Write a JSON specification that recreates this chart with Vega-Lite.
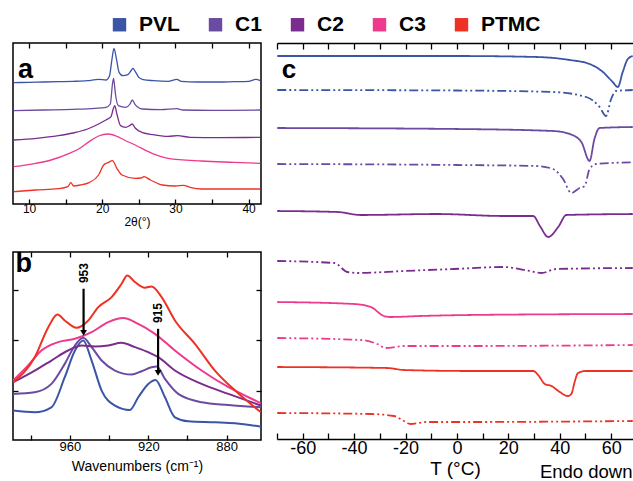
{
  "$schema": "https://vega.github.io/schema/vega-lite/v6.json",
  "autosize": {"type": "pad"},
  "padding": {"left": 11, "top": 14, "right": 0, "bottom": 0},
  "background": "white",
  "datasets": {
    "xrd": [
      {"s":"PVL","x":7.9,"y":364},{"s":"PVL","x":10,"y":365},{"s":"PVL","x":12,"y":366},{"s":"PVL","x":14,"y":367},{"s":"PVL","x":16,"y":368},{"s":"PVL","x":18,"y":370},{"s":"PVL","x":19.5,"y":374},{"s":"PVL","x":20.5,"y":372},{"s":"PVL","x":21.0,"y":385},{"s":"PVL","x":21.3,"y":430},{"s":"PVL","x":21.6,"y":467},{"s":"PVL","x":21.9,"y":440},{"s":"PVL","x":22.3,"y":395},{"s":"PVL","x":22.8,"y":385},{"s":"PVL","x":23.5,"y":388},{"s":"PVL","x":24.0,"y":402},{"s":"PVL","x":24.2,"y":407},{"s":"PVL","x":24.5,"y":398},{"s":"PVL","x":25.0,"y":380},{"s":"PVL","x":25.6,"y":373},{"s":"PVL","x":27,"y":370},{"s":"PVL","x":29,"y":368},{"s":"PVL","x":30.2,"y":374},{"s":"PVL","x":30.8,"y":368},{"s":"PVL","x":33,"y":366},{"s":"PVL","x":36,"y":366},{"s":"PVL","x":38,"y":367},{"s":"PVL","x":40,"y":368},{"s":"PVL","x":41,"y":374},{"s":"PVL","x":41.6,"y":370},
      {"s":"C1","x":7.9,"y":280},{"s":"C1","x":12,"y":282},{"s":"C1","x":16,"y":284},{"s":"C1","x":19,"y":287},{"s":"C1","x":20.5,"y":290},{"s":"C1","x":21.1,"y":300},{"s":"C1","x":21.4,"y":360},{"s":"C1","x":21.55,"y":377},{"s":"C1","x":21.8,"y":330},{"s":"C1","x":22.2,"y":295},{"s":"C1","x":23.2,"y":290},{"s":"C1","x":23.8,"y":300},{"s":"C1","x":24.1,"y":312},{"s":"C1","x":24.5,"y":298},{"s":"C1","x":25.5,"y":285},{"s":"C1","x":28,"y":283},{"s":"C1","x":30.2,"y":286},{"s":"C1","x":31,"y":282},{"s":"C1","x":35,"y":281},{"s":"C1","x":41.6,"y":282},
      {"s":"C2","x":7.9,"y":192},{"s":"C2","x":11,"y":197},{"s":"C2","x":14,"y":205},{"s":"C2","x":16,"y":213},{"s":"C2","x":18,"y":225},{"s":"C2","x":19.5,"y":240},{"s":"C2","x":20.5,"y":252},{"s":"C2","x":21.2,"y":262},{"s":"C2","x":21.5,"y":285},{"s":"C2","x":21.7,"y":295},{"s":"C2","x":22.0,"y":270},{"s":"C2","x":22.5,"y":235},{"s":"C2","x":23.2,"y":230},{"s":"C2","x":23.8,"y":236},{"s":"C2","x":24.1,"y":240},{"s":"C2","x":24.5,"y":228},{"s":"C2","x":25.5,"y":214},{"s":"C2","x":27,"y":208},{"s":"C2","x":29,"y":203},{"s":"C2","x":30.3,"y":205},{"s":"C2","x":32,"y":200},{"s":"C2","x":36,"y":199},{"s":"C2","x":41.6,"y":200},
      {"s":"C3","x":7.9,"y":112},{"s":"C3","x":10.9,"y":122},{"s":"C3","x":13,"y":132},{"s":"C3","x":15.5,"y":152},{"s":"C3","x":17,"y":168},{"s":"C3","x":18.2,"y":187},{"s":"C3","x":19.5,"y":204},{"s":"C3","x":20.8,"y":210},{"s":"C3","x":22,"y":203},{"s":"C3","x":23,"y":192},{"s":"C3","x":24.5,"y":177},{"s":"C3","x":26.8,"y":152},{"s":"C3","x":29,"y":137},{"s":"C3","x":33.6,"y":129},{"s":"C3","x":38,"y":125},{"s":"C3","x":41.6,"y":122},
      {"s":"PTMC","x":7.9,"y":37},{"s":"PTMC","x":10.9,"y":42},{"s":"PTMC","x":14,"y":46},{"s":"PTMC","x":15.3,"y":52},{"s":"PTMC","x":15.7,"y":64},{"s":"PTMC","x":16.1,"y":54},{"s":"PTMC","x":17,"y":57},{"s":"PTMC","x":18.2,"y":64},{"s":"PTMC","x":19.5,"y":87},{"s":"PTMC","x":20.2,"y":117},{"s":"PTMC","x":20.8,"y":124},{"s":"PTMC","x":21.4,"y":130},{"s":"PTMC","x":22.0,"y":107},{"s":"PTMC","x":22.7,"y":87},{"s":"PTMC","x":24.5,"y":77},{"s":"PTMC","x":25.3,"y":78},{"s":"PTMC","x":25.7,"y":82},{"s":"PTMC","x":26.6,"y":72},{"s":"PTMC","x":28.2,"y":57},{"s":"PTMC","x":30,"y":54},{"s":"PTMC","x":31.1,"y":56},{"s":"PTMC","x":32,"y":50},{"s":"PTMC","x":33.6,"y":45},{"s":"PTMC","x":41.6,"y":45}
    ],
    "ftir": [
      {"s":"PVL","x":988.9,"y":88},{"s":"PVL","x":977.9,"y":83},{"s":"PVL","x":969.4,"y":98},{"s":"PVL","x":962.6,"y":188},{"s":"PVL","x":957.4,"y":268},{"s":"PVL","x":953.2,"y":298},{"s":"PVL","x":948.9,"y":238},{"s":"PVL","x":943.8,"y":148},{"s":"PVL","x":937,"y":103},{"s":"PVL","x":929.4,"y":90},{"s":"PVL","x":925.1,"y":128},{"s":"PVL","x":920,"y":168},{"s":"PVL","x":916.3,"y":180},{"s":"PVL","x":911.5,"y":128},{"s":"PVL","x":906.4,"y":68},{"s":"PVL","x":899.6,"y":56},{"s":"PVL","x":886,"y":53},{"s":"PVL","x":875.7,"y":50},{"s":"PVL","x":862.5,"y":40},
      {"s":"C1","x":988.9,"y":138},{"s":"C1","x":977.9,"y":143},{"s":"C1","x":969.4,"y":168},{"s":"C1","x":962.6,"y":228},{"s":"C1","x":957.4,"y":283},{"s":"C1","x":953.2,"y":306},{"s":"C1","x":948.9,"y":278},{"s":"C1","x":943.8,"y":238},{"s":"C1","x":937,"y":208},{"s":"C1","x":928.5,"y":196},{"s":"C1","x":923.4,"y":206},{"s":"C1","x":918.3,"y":218},{"s":"C1","x":915.7,"y":220},{"s":"C1","x":911.5,"y":183},{"s":"C1","x":904.7,"y":138},{"s":"C1","x":892.8,"y":113},{"s":"C1","x":879.1,"y":105},{"s":"C1","x":862.5,"y":98},
      {"s":"C2","x":988.9,"y":173},{"s":"C2","x":977.9,"y":208},{"s":"C2","x":969.4,"y":238},{"s":"C2","x":960.9,"y":268},{"s":"C2","x":954,"y":283},{"s":"C2","x":947.2,"y":280},{"s":"C2","x":940.4,"y":283},{"s":"C2","x":933.6,"y":291},{"s":"C2","x":926.8,"y":278},{"s":"C2","x":920,"y":263},{"s":"C2","x":914.9,"y":248},{"s":"C2","x":906.4,"y":208},{"s":"C2","x":892.8,"y":168},{"s":"C2","x":879.1,"y":138},{"s":"C2","x":862.5,"y":103},
      {"s":"C3","x":988.9,"y":178},{"s":"C3","x":981.3,"y":223},{"s":"C3","x":974.5,"y":268},{"s":"C3","x":966,"y":293},{"s":"C3","x":957.4,"y":303},{"s":"C3","x":948.9,"y":323},{"s":"C3","x":940.4,"y":353},{"s":"C3","x":932.8,"y":365},{"s":"C3","x":925.1,"y":348},{"s":"C3","x":916.6,"y":318},{"s":"C3","x":906.4,"y":268},{"s":"C3","x":892.8,"y":208},{"s":"C3","x":879.1,"y":158},{"s":"C3","x":868.9,"y":128},{"s":"C3","x":862.5,"y":110},
      {"s":"PTMC","x":988.9,"y":173},{"s":"PTMC","x":977.9,"y":248},{"s":"PTMC","x":971,"y":338},{"s":"PTMC","x":966.3,"y":376},{"s":"PTMC","x":962.6,"y":358},{"s":"PTMC","x":956.6,"y":336},{"s":"PTMC","x":950.6,"y":358},{"s":"PTMC","x":945.5,"y":398},{"s":"PTMC","x":938.7,"y":428},{"s":"PTMC","x":933.6,"y":468},{"s":"PTMC","x":930.7,"y":493},{"s":"PTMC","x":926.8,"y":473},{"s":"PTMC","x":921.7,"y":456},{"s":"PTMC","x":918.3,"y":460},{"s":"PTMC","x":913.2,"y":428},{"s":"PTMC","x":906.4,"y":358},{"s":"PTMC","x":896.2,"y":288},{"s":"PTMC","x":886,"y":208},{"s":"PTMC","x":875.7,"y":148},{"s":"PTMC","x":862.5,"y":83}
    ],
    "arrows": [
      {"label":"953","x":953,"y1":453,"y2":326,"tip":321,"ly":500},
      {"label":"915","x":915,"y1":333,"y2":206,"tip":201,"ly":380}
    ],
    "dsc": [
      {"s":"PVL","scan":"heat","x":-69.9,"y":383},{"s":"PVL","scan":"heat","x":-40,"y":383},{"s":"PVL","scan":"heat","x":0,"y":383},{"s":"PVL","scan":"heat","x":31,"y":382},{"s":"PVL","scan":"heat","x":43.9,"y":379},{"s":"PVL","scan":"heat","x":51.6,"y":375},{"s":"PVL","scan":"heat","x":56.8,"y":367},{"s":"PVL","scan":"heat","x":60.6,"y":357},{"s":"PVL","scan":"heat","x":62.6,"y":352},{"s":"PVL","scan":"heat","x":64.5,"y":367},{"s":"PVL","scan":"heat","x":66.5,"y":380},{"s":"PVL","scan":"heat","x":68.4,"y":383},
      {"s":"PVL","scan":"cool","x":-69.9,"y":349},{"s":"PVL","scan":"cool","x":0,"y":348.5},{"s":"PVL","scan":"cool","x":37.4,"y":347},{"s":"PVL","scan":"cool","x":50.3,"y":342},{"s":"PVL","scan":"cool","x":55.5,"y":332},{"s":"PVL","scan":"cool","x":58,"y":323},{"s":"PVL","scan":"cool","x":60,"y":340},{"s":"PVL","scan":"cool","x":61.9,"y":348},{"s":"PVL","scan":"cool","x":68.4,"y":349},
      {"s":"C1","scan":"heat","x":-69.9,"y":311},{"s":"C1","scan":"heat","x":0,"y":310},{"s":"C1","scan":"heat","x":37.4,"y":308},{"s":"C1","scan":"heat","x":43.9,"y":305},{"s":"C1","scan":"heat","x":48.4,"y":297},{"s":"C1","scan":"heat","x":51.6,"y":278},{"s":"C1","scan":"heat","x":53.5,"y":300},{"s":"C1","scan":"heat","x":55.5,"y":311},{"s":"C1","scan":"heat","x":68.4,"y":312},
      {"s":"C1","scan":"cool","x":-69.9,"y":275},{"s":"C1","scan":"cool","x":0,"y":274},{"s":"C1","scan":"cool","x":31,"y":273},{"s":"C1","scan":"cool","x":37.4,"y":270},{"s":"C1","scan":"cool","x":41.3,"y":260},{"s":"C1","scan":"cool","x":44.5,"y":246},{"s":"C1","scan":"cool","x":47.7,"y":251},{"s":"C1","scan":"cool","x":49.7,"y":253},{"s":"C1","scan":"cool","x":51.6,"y":270},{"s":"C1","scan":"cool","x":54.2,"y":275},{"s":"C1","scan":"cool","x":68.4,"y":276.7},
      {"s":"C2","scan":"heat","x":-69.9,"y":228},{"s":"C2","scan":"heat","x":-46.5,"y":227},{"s":"C2","scan":"heat","x":-37.4,"y":224},{"s":"C2","scan":"heat","x":-7.7,"y":225},{"s":"C2","scan":"heat","x":18.1,"y":223},{"s":"C2","scan":"heat","x":29.7,"y":223},{"s":"C2","scan":"heat","x":32.3,"y":213},{"s":"C2","scan":"heat","x":35.5,"y":202},{"s":"C2","scan":"heat","x":39.4,"y":212},{"s":"C2","scan":"heat","x":42.6,"y":224},{"s":"C2","scan":"heat","x":68.4,"y":225},
      {"s":"C2","scan":"cool","x":-69.9,"y":178},{"s":"C2","scan":"cool","x":-47.7,"y":176},{"s":"C2","scan":"cool","x":-42.6,"y":167},{"s":"C2","scan":"cool","x":-38.7,"y":166},{"s":"C2","scan":"cool","x":-20.6,"y":168},{"s":"C2","scan":"cool","x":-1.3,"y":170},{"s":"C2","scan":"cool","x":18.1,"y":172},{"s":"C2","scan":"cool","x":28.4,"y":168},{"s":"C2","scan":"cool","x":32.9,"y":166},{"s":"C2","scan":"cool","x":38.7,"y":170},{"s":"C2","scan":"cool","x":68.4,"y":171},
      {"s":"C3","scan":"heat","x":-69.9,"y":137},{"s":"C3","scan":"heat","x":-40,"y":135},{"s":"C3","scan":"heat","x":-33.5,"y":132},{"s":"C3","scan":"heat","x":-28.4,"y":123},{"s":"C3","scan":"heat","x":-25.8,"y":122},{"s":"C3","scan":"heat","x":-14.2,"y":123},{"s":"C3","scan":"heat","x":5,"y":124},{"s":"C3","scan":"heat","x":68.4,"y":125},
      {"s":"C3","scan":"cool","x":-69.9,"y":101},{"s":"C3","scan":"cool","x":-37.4,"y":99},{"s":"C3","scan":"cool","x":-31,"y":95},{"s":"C3","scan":"cool","x":-27.7,"y":91},{"s":"C3","scan":"cool","x":-20.6,"y":93},{"s":"C3","scan":"cool","x":5,"y":93},{"s":"C3","scan":"cool","x":68.4,"y":94},
      {"s":"PTMC","scan":"heat","x":-69.9,"y":72},{"s":"PTMC","scan":"heat","x":-27.1,"y":71},{"s":"PTMC","scan":"heat","x":-20.6,"y":69},{"s":"PTMC","scan":"heat","x":5.2,"y":68},{"s":"PTMC","scan":"heat","x":29.7,"y":68},{"s":"PTMC","scan":"heat","x":31.6,"y":64},{"s":"PTMC","scan":"heat","x":34.2,"y":55},{"s":"PTMC","scan":"heat","x":36.8,"y":53},{"s":"PTMC","scan":"heat","x":40,"y":47},{"s":"PTMC","scan":"heat","x":43.2,"y":43},{"s":"PTMC","scan":"heat","x":44.5,"y":45},{"s":"PTMC","scan":"heat","x":45.8,"y":57},{"s":"PTMC","scan":"heat","x":47.1,"y":66},{"s":"PTMC","scan":"heat","x":50.3,"y":68},{"s":"PTMC","scan":"heat","x":68.4,"y":68},
      {"s":"PTMC","scan":"cool","x":-69.9,"y":26},{"s":"PTMC","scan":"cool","x":-33.5,"y":25},{"s":"PTMC","scan":"cool","x":-24.5,"y":23},{"s":"PTMC","scan":"cool","x":-20.6,"y":18},{"s":"PTMC","scan":"cool","x":-18.1,"y":15},{"s":"PTMC","scan":"cool","x":-11.6,"y":17},{"s":"PTMC","scan":"cool","x":5,"y":17},{"s":"PTMC","scan":"cool","x":68.4,"y":18}
    ]
  },
  "spacing": 13,
  "hconcat": [
    {
      "bounds": "flush",
      "spacing": 48,
      "vconcat": [
        {
          "width": 248, "height": 161,
          "layer": [
            {
              "data": {"name": "xrd"},
              "mark": {"type": "line", "strokeWidth": 1.3, "interpolate": "monotone", "clip": true},
              "encoding": {
                "x": {"field": "x", "type": "quantitative", "scale": {"domain": [7.8, 41.7], "nice": false, "zero": false},
                      "axis": {"values": [10, 15, 20, 25, 30, 35, 40], "labelExpr": "datum.value % 10 == 0 ? datum.label : ''", "title": "2θ(°)", "labelFontSize": 12, "titleFontSize": 12, "labelPadding": 4, "titlePadding": 2, "domain": false}},
                "y": {"field": "y", "type": "quantitative", "scale": {"domain": [0, 483], "nice": false, "zero": false}, "axis": null},
                "color": {"field": "s", "type": "nominal", "scale": {"domain": ["PVL", "C1", "C2", "C3", "PTMC"], "range": ["#3b55a6", "#6a4ba1", "#7a2d8f", "#ee3a8c", "#ee3124"]},
                          "legend": {"encode": {"symbols": {"update": {"fill": {"scale": "color", "field": "value"}, "strokeWidth": {"value": 0}}}}}}
              }
            },
            {
              "data": {"values": [{"t": "a", "x": 9.5, "y": 402}]},
              "mark": {"type": "text", "fontSize": 27, "fontWeight": "bold", "font": "Liberation Sans", "color": "black"},
              "encoding": {
                "x": {"field": "x", "type": "quantitative", "axis": {"orient": "top", "values": [10, 15, 20, 25, 30, 35, 40], "labels": false, "title": null, "domain": false}},
                "y": {"field": "y", "type": "quantitative", "axis": null},
                "text": {"field": "t"}
              }
            }
          ],
          "resolve": {"axis": {"x": "independent"}}
        },
        {
          "width": 248, "height": 188,
          "layer": [
            {
              "data": {"name": "ftir"},
              "mark": {"type": "line", "strokeWidth": 2, "interpolate": "monotone", "clip": true},
              "encoding": {
                "x": {"field": "x", "type": "quantitative", "scale": {"domain": [862.5, 989], "reverse": true, "nice": false, "zero": false},
                      "axis": {"values": [980, 960, 940, 920, 900, 880], "labelExpr": "datum.value % 40 == 0 ? datum.label : ''", "title": "Wavenumbers (cm⁻¹)", "labelFontSize": 13, "titleFontSize": 14, "labelPadding": 5, "titlePadding": 6, "domain": false}},
                "y": {"field": "y", "type": "quantitative", "scale": {"domain": [0, 563], "nice": false, "zero": false},
                      "axis": {"values": [148, 300, 448], "labels": false, "title": null, "domain": false}},
                "color": {"field": "s", "type": "nominal", "scale": {"domain": ["PVL", "C1", "C2", "C3", "PTMC"], "range": ["#3b55a6", "#6a4ba1", "#7a2d8f", "#ee3a8c", "#ee3124"]},
                          "legend": {"encode": {"symbols": {"update": {"fill": {"scale": "color", "field": "value"}, "strokeWidth": {"value": 0}}}}}}
              }
            },
            {
              "data": {"name": "arrows"},
              "mark": {"type": "rule", "strokeWidth": 2.2, "color": "black"},
              "encoding": {
                "x": {"field": "x", "type": "quantitative", "axis": {"orient": "top", "values": [980, 960, 940, 920, 900, 880], "labels": false, "title": null, "domain": false}},
                "y": {"field": "y1", "type": "quantitative", "axis": {"orient": "right", "values": [148, 300, 448], "labels": false, "title": null, "domain": false}},
                "y2": {"field": "y2"}
              }
            },
            {
              "data": {"name": "arrows"},
              "mark": {"type": "point", "shape": "triangle-down", "filled": true, "size": 45, "color": "black", "opacity": 1},
              "encoding": {
                "x": {"field": "x", "type": "quantitative", "axis": null},
                "y": {"field": "tip", "type": "quantitative", "axis": null}
              }
            },
            {
              "data": {"name": "arrows"},
              "mark": {"type": "text", "angle": 270, "fontSize": 12, "fontWeight": "bold", "font": "Liberation Sans", "color": "black"},
              "encoding": {
                "x": {"field": "x", "type": "quantitative", "axis": null},
                "y": {"field": "ly", "type": "quantitative", "axis": null},
                "text": {"field": "label"}
              }
            },
            {
              "data": {"values": [{"t": "b", "x": 983.5, "y": 527}]},
              "mark": {"type": "text", "fontSize": 27, "fontWeight": "bold", "font": "Liberation Sans", "color": "black"},
              "encoding": {
                "x": {"field": "x", "type": "quantitative", "axis": null},
                "y": {"field": "y", "type": "quantitative", "axis": null},
                "text": {"field": "t"}
              }
            }
          ],
          "resolve": {"axis": {"x": "independent", "y": "independent"}}
        }
      ]
    },
    {
      "width": 356, "height": 396,
      "view": {"stroke": null},
      "layer": [
        {
          "data": {"name": "dsc"},
          "mark": {"type": "line", "strokeWidth": 1.8, "interpolate": "monotone", "clip": true},
          "encoding": {
            "x": {"field": "x", "type": "quantitative", "scale": {"domain": [-70, 68.5], "nice": false, "zero": false},
                  "axis": {"values": [-70, -60, -50, -40, -30, -20, -10, 0, 10, 20, 30, 40, 50, 60], "labelExpr": "datum.value % 20 == 0 ? replace(datum.label, '−', '-') : ''", "title": "T (°C)", "labelFontSize": 18, "titleFontSize": 19, "labelPadding": 6, "titlePadding": 2, "domainWidth": 1.5, "tickSize": -6}},
            "y": {"field": "y", "type": "quantitative", "scale": {"domain": [0, 396], "nice": false, "zero": false},
                  "axis": {"ticks": false, "labels": false, "title": null, "domainWidth": 1.5}},
            "color": {"field": "s", "type": "nominal", "scale": {"domain": ["PVL", "C1", "C2", "C3", "PTMC"], "range": ["#3b55a6", "#6a4ba1", "#7a2d8f", "#ee3a8c", "#ee3124"]},
                      "legend": {"encode": {"symbols": {"update": {"fill": {"scale": "color", "field": "value"}, "strokeWidth": {"value": 0}}}}}},
            "strokeDash": {"field": "scan", "type": "nominal", "scale": {"domain": ["heat", "cool"], "range": [[1, 0], [9, 3, 2, 3, 2, 3]]}, "legend": null},
            "detail": {"field": "scan"}
          }
        },
        {
          "data": {"values": [{"t": "c", "x": -65.3, "y": 369}]},
          "mark": {"type": "text", "fontSize": 26, "fontWeight": "bold", "font": "Liberation Sans", "color": "black"},
          "encoding": {
            "x": {"field": "x", "type": "quantitative", "axis": {"orient": "top", "values": [-70, -60, -50, -40, -30, -20, -10, 0, 10, 20, 30, 40, 50, 60], "labels": false, "title": null, "domainWidth": 1.5, "tickSize": -6}},
            "y": {"field": "y", "type": "quantitative", "axis": null},
            "text": {"field": "t"}
          }
        },
        {
          "data": {"values": [{"t": "Endo down", "x": 68.3, "y": -33}]},
          "mark": {"type": "text", "fontSize": 18.5, "font": "Liberation Sans", "color": "black", "align": "right"},
          "encoding": {
            "x": {"field": "x", "type": "quantitative", "axis": null},
            "y": {"field": "y", "type": "quantitative", "axis": null},
            "text": {"field": "t"}
          }
        }
      ],
      "resolve": {"axis": {"x": "independent"}}
    }
  ],
  "config": {
    "view": {"stroke": "black", "strokeWidth": 1.5},
    "axis": {"tickSize": -5, "tickColor": "black", "tickWidth": 1.3, "domainColor": "black", "labelFont": "Liberation Sans", "titleFont": "Liberation Sans", "labelColor": "black", "titleColor": "black", "grid": false, "titleFontWeight": "normal"},
    "legend": {"orient": "none", "legendX": 96, "legendY": -29, "direction": "horizontal", "title": null, "symbolType": "square", "symbolSize": 180, "labelFont": "Liberation Sans", "labelFontWeight": "bold", "labelFontSize": 21, "labelColor": "black", "columnPadding": 25, "labelOffset": 9},
    "text": {"font": "Liberation Sans"}
  }
}
